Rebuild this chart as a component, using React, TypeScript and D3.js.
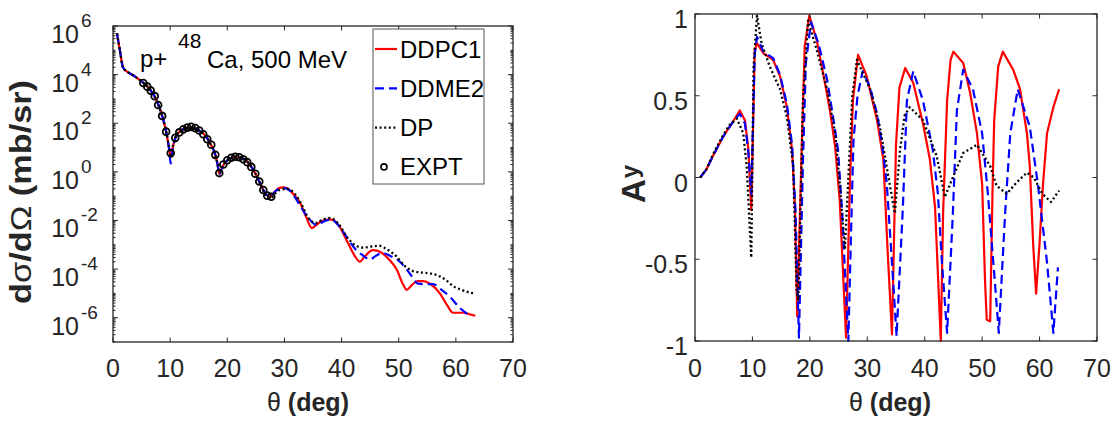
import React from "react";
import * as d3 from "d3";

// cross section, p + 48Ca at 500 MeV  [theta (deg), dsigma/dOmega (mb/sr)]
const ddpc1Cross: [number, number][] = [
  [0.7, 5.0e5], [1.2, 1.0e5], [1.75, 2.0e4], [2.5, 1.3e4], [3.0, 1.1e4], [4.0, 7.9e3],
  [4.7, 6.0e3], [5.5, 4.2e3], [6.5, 2.4e3], [7.3, 1.26e3], [8.0, 525], [8.6, 200],
  [9.3, 45], [9.8, 10], [10.1, 4.0], [10.5, 11], [10.9, 25], [11.7, 46], [12.9, 63],
  [13.8, 68], [14.9, 52], [16.1, 32], [17.0, 15], [17.9, 5.0], [18.3, 2.0], [18.6, 0.83],
  [19.3, 1.9], [20.2, 3.2], [21.7, 4.2], [23.1, 3.2], [24.3, 1.5], [25.2, 0.63],
  [26.0, 0.25], [26.9, 0.11], [27.6, 0.095], [28.2, 0.14], [28.7, 0.19], [29.6, 0.23],
  [30.5, 0.21], [31.5, 0.126], [32.7, 0.056], [33.8, 0.014], [34.8, 4.9e-3], [35.5, 6.3e-3],
  [36.5, 9.5e-3], [38.0, 0.011], [39.5, 6.3e-3], [41.1, 1.2e-3], [42.3, 3.5e-4], [43.2, 2.0e-4],
  [44.0, 3.2e-4], [45.5, 6.0e-4], [46.8, 5.0e-4], [48.3, 2.5e-4], [49.7, 9.1e-5], [50.7, 2.5e-5],
  [51.4, 1.4e-5], [52.3, 2.2e-5], [53.3, 3.2e-5], [54.3, 3.2e-5], [55.5, 2.5e-5], [57.2, 1.0e-5],
  [58.5, 3.2e-6], [59.5, 1.6e-6], [61.3, 1.6e-6], [62.3, 1.4e-6], [63.4, 1.2e-6],
];
const ddme2Cross: [number, number][] = [
  [0.7, 5.0e5], [1.2, 1.0e5], [1.75, 2.0e4], [2.5, 1.3e4], [3.0, 1.1e4], [4.0, 7.9e3],
  [4.7, 6.0e3], [5.5, 4.2e3], [6.5, 2.4e3], [7.3, 1.26e3], [8.0, 525], [8.6, 200],
  [9.3, 45], [9.8, 9], [10.1, 2.2], [10.5, 10], [10.9, 24], [11.7, 46], [12.9, 63],
  [13.8, 68], [14.9, 52], [16.1, 32], [17.0, 15], [17.9, 5.0], [18.3, 2.0], [18.6, 0.8],
  [19.3, 1.9], [20.2, 3.2], [21.7, 4.2], [23.1, 3.2], [24.3, 1.5], [25.2, 0.63],
  [26.0, 0.25], [26.9, 0.11], [27.6, 0.095], [28.2, 0.14], [29.6, 0.22], [30.8, 0.18],
  [32.0, 0.079], [33.0, 0.032], [34.2, 0.0126], [35.7, 6.3e-3], [36.8, 8.9e-3], [38.2, 0.0107],
  [39.8, 5.0e-3], [41.2, 1.6e-3], [42.5, 6.3e-4], [43.5, 4.0e-4], [45.0, 2.5e-4], [46.0, 3.5e-4],
  [47.2, 4.6e-4], [48.5, 3.5e-4], [50.2, 2.0e-4], [52.0, 6.3e-5], [53.4, 2.5e-5], [54.5, 2.4e-5],
  [56.0, 2.4e-5], [57.5, 1.4e-5], [59.0, 7.1e-6], [60.7, 2.5e-6], [62.0, 1.4e-6], [62.5, 1.07e-6],
];
const dpCross: [number, number][] = [
  [0.7, 5.0e5], [1.2, 1.0e5], [1.75, 2.0e4], [2.5, 1.3e4], [3.0, 1.1e4], [4.0, 7.9e3],
  [4.7, 6.0e3], [5.5, 4.2e3], [6.5, 2.4e3], [7.3, 1.26e3], [8.0, 525], [8.6, 200],
  [9.3, 45], [9.8, 11], [10.1, 5.0], [10.5, 12], [10.9, 25], [11.7, 46], [12.9, 63],
  [13.8, 68], [14.9, 52], [16.1, 32], [17.0, 15], [17.9, 5.0], [18.3, 2.1], [18.6, 0.9],
  [19.3, 1.9], [20.2, 3.2], [21.7, 4.2], [23.1, 3.2], [24.3, 1.5], [25.2, 0.63],
  [26.0, 0.25], [26.9, 0.089], [27.8, 0.089], [28.5, 0.14], [29.2, 0.18], [30.5, 0.2],
  [31.8, 0.126], [33.0, 0.045], [34.2, 0.0126], [35.5, 7.9e-3], [36.8, 0.0112], [38.0, 0.0126],
  [39.5, 7.1e-3], [41.0, 2.0e-3], [42.3, 1.0e-3], [43.8, 7.6e-4], [45.2, 8.5e-4], [46.6, 9.1e-4],
  [48.0, 6.3e-4], [49.5, 3.5e-4], [51.0, 1.4e-4], [52.5, 8.3e-5], [54.0, 7.2e-5], [55.5, 6.6e-5],
  [57.2, 5.0e-5], [58.5, 3.2e-5], [59.5, 2.0e-5], [61.0, 1.4e-5], [62.3, 1.1e-5], [63.4, 1.0e-5],
];
const exptCross: [number, number][] = [
  [5.3, 4.5e3], [6.0, 3.2e3], [6.6, 2.2e3], [7.3, 1.3e3], [7.9, 560], [8.6, 200], [9.3, 45],
  [10.1, 5.9], [10.9, 25], [11.6, 42], [12.3, 56], [13.0, 66], [13.7, 71], [14.4, 63],
  [15.1, 50], [15.8, 35], [16.5, 22], [17.2, 13], [17.9, 5.0], [18.6, 0.89], [19.3, 2.0],
  [20.0, 3.0], [20.7, 3.8], [21.4, 4.2], [22.1, 4.0], [22.8, 3.3], [23.5, 2.5], [24.2, 1.6],
  [24.9, 0.83], [25.6, 0.4], [26.3, 0.18], [27.0, 0.105], [27.7, 0.095],
];

// analyzing power A_y  [theta (deg), A_y]
const ddpc1Ay: [number, number][] = [
  [0.9, 0], [2.0, 0.05], [3.1, 0.13], [4.9, 0.25], [6.4, 0.33], [7.8, 0.41], [8.7, 0.35],
  [9.3, 0.17], [9.8, -0.2], [10.4, 0.78], [10.8, 0.82], [11.9, 0.76], [13.6, 0.72], [14.8, 0.62],
  [16.0, 0.43], [16.9, 0.17], [17.4, -0.18], [17.8, -0.85], [18.6, 0.2], [19.1, 0.8], [19.9, 0.99],
  [21.2, 0.84], [22.3, 0.64], [23.5, 0.41], [24.4, 0.19], [25.2, -0.14], [26.3, -0.98], [27.0, 0.0],
  [27.5, 0.47], [28.4, 0.75], [29.9, 0.62], [31.7, 0.35], [32.8, 0.11], [33.5, -0.42], [34.3, -0.96],
  [35.0, 0.2], [35.6, 0.55], [36.6, 0.67], [38.0, 0.58], [39.7, 0.33], [40.9, 0.11], [41.8, -0.18],
  [42.8, -1.0], [43.2, -0.22], [43.9, 0.47], [44.5, 0.72], [45.0, 0.77], [46.7, 0.7], [47.9, 0.52],
  [49.1, 0.27], [50.0, -0.04], [50.5, -0.63], [50.8, -0.87], [51.4, -0.88], [51.8, -0.1], [52.1, 0.35],
  [52.8, 0.68], [53.6, 0.77], [55.4, 0.66], [56.6, 0.54], [57.8, 0.27], [58.3, 0.07], [58.9, -0.42],
  [59.4, -0.71], [60.0, -0.4], [60.6, -0.04], [61.3, 0.27], [62.4, 0.43], [63.4, 0.54],
];
const ddme2Ay: [number, number][] = [
  [0.9, 0], [2.0, 0.05], [3.1, 0.13], [4.9, 0.25], [6.4, 0.33], [7.8, 0.39], [8.7, 0.33],
  [9.3, 0.15], [9.8, -0.1], [10.4, 0.75], [10.8, 0.86], [11.9, 0.77], [13.6, 0.73], [14.8, 0.63],
  [16.0, 0.45], [16.9, 0.2], [17.5, -0.2], [18.1, -0.98], [18.8, 0.1], [19.3, 0.7], [20.2, 0.95],
  [21.5, 0.82], [23.0, 0.6], [24.0, 0.38], [24.9, 0.17], [25.6, -0.2], [26.7, -1.0], [27.2, -0.3],
  [27.6, 0.23], [28.3, 0.5], [29.2, 0.65], [30.5, 0.55], [31.7, 0.39], [32.6, 0.2], [33.4, -0.04],
  [34.5, -0.63], [35.1, -0.97], [36.2, -0.18], [36.9, 0.47], [38.0, 0.65], [39.7, 0.47], [41.4, 0.17],
  [42.3, -0.1], [43.0, -0.52], [43.9, -0.95], [44.9, -0.22], [45.6, 0.41], [46.7, 0.66], [48.4, 0.54],
  [50.0, 0.27], [51.0, -0.1], [52.2, -0.63], [52.9, -0.95], [54.0, -0.22], [54.9, 0.27], [56.2, 0.54],
  [58.3, 0.31], [59.7, -0.04], [61.3, -0.52], [62.4, -0.95], [63.2, -0.55],
];
const dpAy: [number, number][] = [
  [0.9, 0], [2.0, 0.05], [3.1, 0.14], [4.9, 0.26], [6.0, 0.32], [7.3, 0.36], [8.4, 0.27],
  [9.0, 0.07], [9.8, -0.49], [10.2, 0.68], [10.8, 0.99], [11.6, 0.82], [13.0, 0.68], [14.8, 0.54],
  [16.0, 0.37], [17.1, 0.07], [17.7, -0.69], [18.0, -0.75], [18.8, 0.47], [19.7, 0.96], [21.2, 0.78],
  [23.0, 0.54], [24.4, 0.27], [25.2, -0.04], [26.1, -0.44], [26.8, 0.07], [27.4, 0.5], [28.2, 0.72],
  [30.5, 0.54], [32.2, 0.31], [33.6, 0.02], [34.8, -0.22], [35.7, 0.17], [36.5, 0.38], [37.4, 0.43],
  [39.7, 0.35], [42.1, 0.13], [43.5, -0.12], [44.9, 0.0], [46.7, 0.15], [49.1, 0.2], [51.4, 0.07],
  [52.5, -0.05], [54.3, -0.1], [56.0, -0.03], [57.8, 0.03], [59.0, 0.0], [60.5, -0.1], [62.0, -0.15],
  [63.4, -0.08],
];

const thetaTicks = [0, 10, 20, 30, 40, 50, 60, 70];
const crossTickExps = [-6, -4, -2, 0, 2, 4, 6];
const ayTicks = [-1, -0.5, 0, 0.5, 1];
const legendNames = ["DDPC1", "DDME2", "DP", "EXPT"];

const FONT = "'Liberation Sans', Arial, Helvetica, sans-serif";
const AX = "#262626";

const styles: Record<string, { stroke: string; dash?: string; width: number }> = {
  DDPC1: { stroke: "#ff0000", width: 2.2 },
  DDME2: { stroke: "#0000ff", dash: "9,5", width: 2.2 },
  DP: { stroke: "#000000", dash: "2,2.6", width: 2.3 },
};

export default function App() {
  const L = { x0: 113, x1: 513, y0: 26, y1: 342 };
  const R = { x0: 695, x1: 1097, y0: 14, y1: 341 };

  const xL = d3.scaleLinear().domain([0, 70]).range([L.x0, L.x1]);
  const yL = d3.scaleLog().domain([1e-7, 1e6]).range([L.y1, L.y0]);
  const xR = d3.scaleLinear().domain([0, 70]).range([R.x0, R.x1]);
  const yR = d3.scaleLinear().domain([-1, 1]).range([R.y1, R.y0]);

  const lineL = d3
    .line<[number, number]>()
    .x((d) => xL(d[0]))
    .y((d) => yL(d[1]))
    .curve(d3.curveMonotoneX);
  const lineR = d3
    .line<[number, number]>()
    .x((d) => xR(d[0]))
    .y((d) => yR(d[1]));

  // log minor ticks
  const logTicks: { v: number; major: boolean }[] = [];
  for (let e = -7; e <= 5; e++) {
    for (let k = 1; k <= 9; k++) {
      logTicks.push({ v: k * Math.pow(10, e), major: k === 1 && e % 2 === 0 });
    }
  }
  logTicks.push({ v: 1e6, major: true });

  const crossSeries: [string, [number, number][]][] = [
    ["DDPC1", ddpc1Cross],
    ["DDME2", ddme2Cross],
    ["DP", dpCross],
  ];
  const aySeries: [string, [number, number][]][] = [
    ["DDPC1", ddpc1Ay],
    ["DDME2", ddme2Ay],
    ["DP", dpAy],
  ];

  const tickLen = 4.5;

  return (
    <svg
      width={1113}
      height={422}
      style={{ position: "absolute", left: 0, top: 0, background: "#fff" }}
      fontFamily={FONT}
    >
      <defs>
        <clipPath id="clipL">
          <rect x={L.x0} y={L.y0} width={L.x1 - L.x0} height={L.y1 - L.y0} />
        </clipPath>
        <clipPath id="clipR">
          <rect x={R.x0} y={R.y0 - 2} width={R.x1 - R.x0} height={R.y1 - R.y0 + 4} />
        </clipPath>
      </defs>

      {/* ---------- left panel ---------- */}
      <g clipPath="url(#clipL)">
        {crossSeries.map(([name, data]) => (
          <path
            key={name}
            d={lineL(data) || ""}
            fill="none"
            stroke={styles[name].stroke}
            strokeWidth={styles[name].width}
            strokeDasharray={styles[name].dash}
          />
        ))}
        {exptCross.map((d, i) => (
          <circle key={i} cx={xL(d[0])} cy={yL(d[1])} r={3.4} fill="none" stroke="#000" strokeWidth={1.8} />
        ))}
      </g>
      {/* ticks */}
      {thetaTicks.map((t) => (
        <g key={"lx" + t}>
          <line x1={xL(t)} x2={xL(t)} y1={L.y1} y2={L.y1 - tickLen} stroke={AX} />
          <line x1={xL(t)} x2={xL(t)} y1={L.y0} y2={L.y0 + tickLen} stroke={AX} />
          <text x={xL(t)} y={377} textAnchor="middle" fontSize={25} fill={AX}>
            {t}
          </text>
        </g>
      ))}
      {logTicks.map((t, i) => (
        <g key={"ly" + i}>
          <line x1={L.x0} x2={L.x0 + (t.major ? 5 : 2.5)} y1={yL(t.v)} y2={yL(t.v)} stroke={AX} />
          <line x1={L.x1} x2={L.x1 - (t.major ? 5 : 2.5)} y1={yL(t.v)} y2={yL(t.v)} stroke={AX} />
        </g>
      ))}
      {crossTickExps.map((e) => (
        <g key={"lyl" + e}>
          <text x={79} y={yL(Math.pow(10, e)) + 17} textAnchor="end" fontSize={25} fill={AX}>
            10
          </text>
          <text x={81} y={yL(Math.pow(10, e)) + 1} fontSize={19} fill={AX}>
            {e}
          </text>
        </g>
      ))}
      <rect x={L.x0} y={L.y0} width={L.x1 - L.x0} height={L.y1 - L.y0} fill="none" stroke={AX} strokeWidth={1.3} />

      {/* annotation */}
      <text x={140} y={67} fontSize={24} fill="#000">
        p+
      </text>
      <text x={178} y={48} fontSize={21} fill="#000">
        48
      </text>
      <text x={207} y={68} fontSize={24} fill="#000">
        Ca, 500 MeV
      </text>

      {/* legend */}
      <rect x={373} y={29} width={111} height={155} fill="#fff" stroke="#555" strokeWidth={1} />
      {legendNames.map((name, i) => {
        const cy = 49 + i * 39.3;
        return (
          <g key={name}>
            {name === "EXPT" ? (
              <circle cx={384} cy={cy} r={3} fill="none" stroke="#000" strokeWidth={1.6} />
            ) : (
              <line
                x1={375}
                x2={397}
                y1={cy}
                y2={cy}
                stroke={styles[name].stroke}
                strokeWidth={styles[name].width}
                strokeDasharray={styles[name].dash}
              />
            )}
            <text x={400} y={cy + 8.5} fontSize={24} fill="#000">
              {name}
            </text>
          </g>
        );
      })}

      {/* axis titles */}
      <text x={308} y={411} textAnchor="middle" fontSize={25} fill={AX}>
        <tspan>θ</tspan>
        <tspan fontWeight="bold"> (deg)</tspan>
      </text>
      <text
        transform="translate(31,192) rotate(-90)"
        textAnchor="middle"
        fontSize={29}
        fontWeight="bold"
        fill={AX}
        textLength={224}
        lengthAdjust="spacingAndGlyphs"
      >
        <tspan>d</tspan>
        <tspan fontWeight="normal">σ</tspan>
        <tspan>/d</tspan>
        <tspan fontWeight="normal">Ω</tspan>
        <tspan> (mb/sr)</tspan>
      </text>

      {/* ---------- right panel ---------- */}
      <g clipPath="url(#clipR)">
        {aySeries.map(([name, data]) => (
          <path
            key={name}
            d={lineR(data) || ""}
            fill="none"
            stroke={styles[name].stroke}
            strokeWidth={styles[name].width}
            strokeDasharray={styles[name].dash}
            strokeLinejoin="round"
          />
        ))}
      </g>
      {thetaTicks.map((t) => (
        <g key={"rx" + t}>
          <line x1={xR(t)} x2={xR(t)} y1={R.y1} y2={R.y1 - tickLen} stroke={AX} />
          <line x1={xR(t)} x2={xR(t)} y1={R.y0} y2={R.y0 + tickLen} stroke={AX} />
          <text x={xR(t)} y={377} textAnchor="middle" fontSize={25} fill={AX}>
            {t}
          </text>
        </g>
      ))}
      {ayTicks.map((t) => (
        <g key={"ry" + t}>
          <line x1={R.x0} x2={R.x0 + tickLen} y1={yR(t)} y2={yR(t)} stroke={AX} />
          <line x1={R.x1} x2={R.x1 - tickLen} y1={yR(t)} y2={yR(t)} stroke={AX} />
          <text x={688} y={yR(t) + 14} textAnchor="end" fontSize={25} fill={AX}>
            {String(t)}
          </text>
        </g>
      ))}
      <rect x={R.x0} y={R.y0} width={R.x1 - R.x0} height={R.y1 - R.y0} fill="none" stroke={AX} strokeWidth={1.3} />

      <text x={890} y={411} textAnchor="middle" fontSize={25} fill={AX}>
        <tspan>θ</tspan>
        <tspan fontWeight="bold"> (deg)</tspan>
      </text>
      <text transform="translate(645,184) rotate(-90)" textAnchor="middle" fontSize={33} fontWeight="bold" fill={AX}>
        <tspan>A</tspan>
        <tspan fontSize={24} dy={-7} dx={1}>y</tspan>
      </text>
    </svg>
  );
}
